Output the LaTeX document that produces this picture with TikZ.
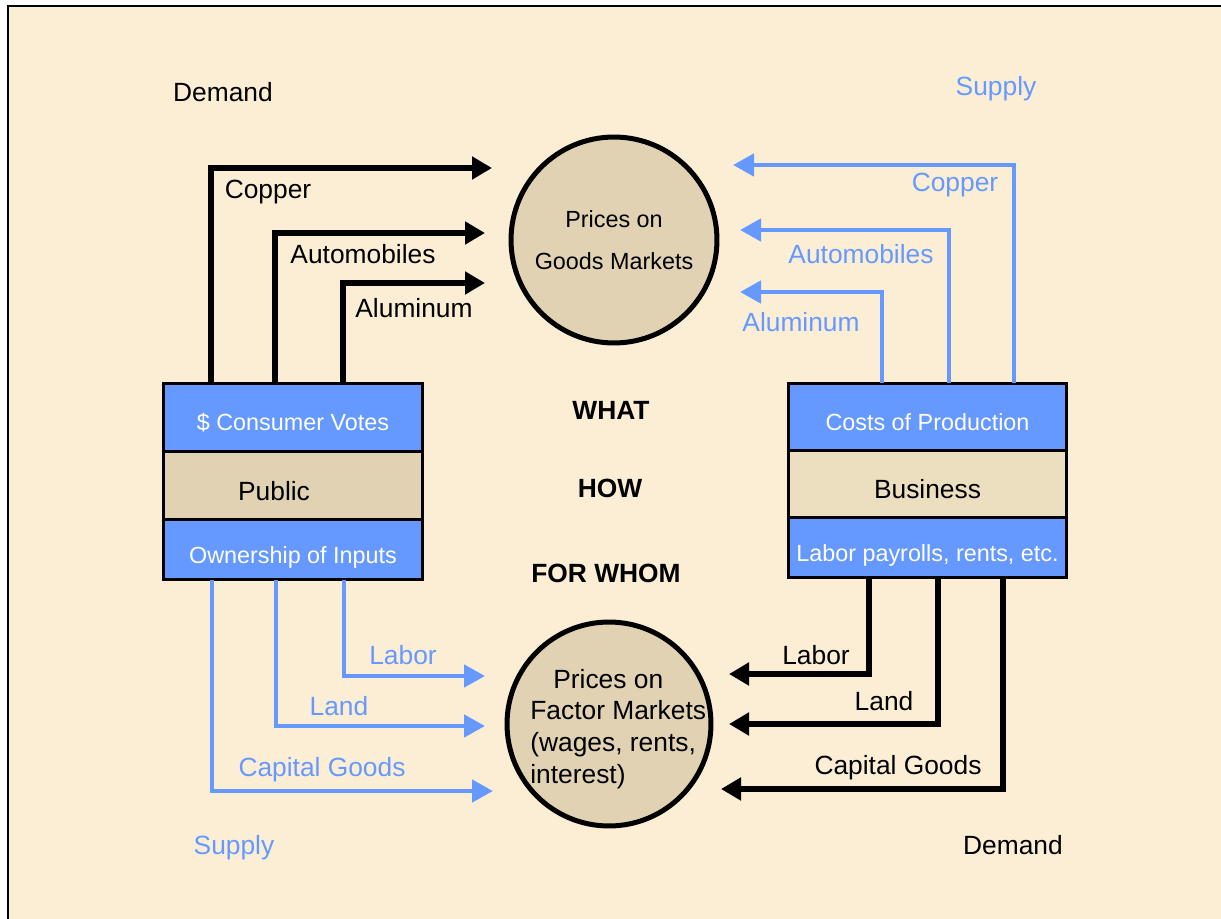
\documentclass[tikz,border=0pt]{standalone}
\usepackage{fontspec}
\setmainfont{Liberation Sans}
\usetikzlibrary{arrows.meta,positioning}

\definecolor{parch}{HTML}{FBEED5}
\definecolor{flowblue}{HTML}{6699FF}
\definecolor{tanfill}{HTML}{E0D2B2}
\definecolor{tanlight}{HTML}{EBDFC0}

\tikzset{
  lbl/.style={font=\fontsize{15}{18}\selectfont, inner sep=0pt},
  boxtxt/.style={font=\fontsize{13.3}{16}\selectfont},
  bluebox/.style={draw=black, line width=0.06cm, fill=flowblue, text=white, boxtxt, inner sep=0pt, outer sep=0pt,
    text height=0.54cm, text depth=0cm},
  tanbox/.style={draw=black, line width=0.06cm, fill=tanfill, lbl, outer sep=0pt,
    text height=0.58cm, text depth=0cm},
  mkt/.style={circle, draw=black, line width=0.1cm, fill=tanfill, inner sep=0pt},
  blkarrow/.style={line width=0.11cm, -{Triangle[length=0.4cm,width=0.44cm]}},
  bluarrow/.style={flowblue, line width=0.095cm, -{Triangle[length=0.42cm,width=0.44cm]}}
}

\begin{document}
\begin{tikzpicture}[x=0.02cm, y=-0.02cm]
\useasboundingbox (0,0) rectangle (1221,919);
\fill[white] (0,0) rectangle (1221,919);
\fill[parch] (8,6) rectangle (1221,919);
\draw[line width=0.055cm] (8,919) -- (8,6) -- (1221,6);

% markets
\node[mkt, minimum size=4.12cm, align=center, font=\fontsize{13.3}{23.8}\selectfont] (goods) at (614,240) {Prices on\\Goods Markets};
\node[mkt, minimum size=4.08cm] (factor) at (609,724) {};
\node[lbl, anchor=west, align=left, font=\fontsize{15}{18.1}\selectfont] (factorTxt) at (530,729)
  {\hspace{0.46cm}Prices on\\Factor Markets\\(wages, rents,\\interest)};

% public
\node[bluebox, minimum width=5.2cm, minimum height=1.38cm, anchor=north] (pubTop) at (293,383) {\$ Consumer Votes};
\node[tanbox, minimum width=5.2cm, minimum height=1.36cm, below=0pt of pubTop] (pub) {Public\kern0.76cm};
\node[bluebox, minimum width=5.2cm, minimum height=1.2cm, below=0pt of pub] (pubBot) {Ownership of Inputs};

% business
\node[bluebox, minimum width=5.58cm, minimum height=1.36cm, anchor=north] (busTop) at (927.5,383) {Costs of Production};
\node[tanbox, fill=tanlight, minimum width=5.58cm, minimum height=1.34cm, below=0pt of busTop] (bus) {Business};
\node[bluebox, minimum width=5.58cm, minimum height=1.2cm, below=0pt of bus] (busBot) {Labor payrolls, rents, etc.};

% goods flows
\foreach \x/\y/\t/\lab/\lx/\ly [count=\i] in {211/168/492/Copper/268/192, 275/233/485/Automobiles/363/254, 343/283/485/Aluminum/414/308}{
\coordinate (dG\i) at (\t,\y);
\draw[blkarrow] (\x,0 |- pubTop.north) |- (dG\i);
\node[lbl] (dGl\i) at (\lx,\ly) {\lab};
}
\foreach \x/\y/\t/\lab/\lx/\ly [count=\i] in {1014/165/733/Copper/955/185, 949/230/740/Automobiles/861/254, 882/292/740/Aluminum/801/322}{
\coordinate (sG\i) at (\t,\y);
\draw[bluarrow] (\x,0 |- busTop.north) |- (sG\i);
\node[lbl, text=flowblue] (sGl\i) at (\lx,\ly) {\lab};
}

% factor flows
\foreach \x/\y/\t/\lab/\lx/\ly [count=\i] in {344/676/485/Labor/403/655, 276/726/485/Land/339/706, 212/791/493/Capital Goods/322/770}{
\coordinate (sF\i) at (\t,\y);
\draw[bluarrow] (\x,0 |- pubBot.south) |- (sF\i);
\node[lbl, text=flowblue] (sFl\i) at (\lx,\ly) {\lab};
}
\foreach \x/\y/\t/\lab/\lx/\ly [count=\i] in {869/674/729/Labor/816/655, 938/724/729/Land/884/701, 1003/789/721/Capital Goods/898/768}{
\coordinate (dF\i) at (\t,\y);
\draw[blkarrow] (\x,0 |- busBot.south) |- (dF\i);
\node[lbl] (dFl\i) at (\lx,\ly) {\lab};
}

% side captions
\node[lbl] (demTop) at (223,92) {Demand};
\node[lbl, text=flowblue] (supTop) at (996,89) {Supply};
\node[lbl, text=flowblue] (supBot) at (234,848) {Supply};
\node[lbl] (demBot) at (1013,845) {Demand};

\node[lbl, font=\fontsize{15}{18}\bfseries] (what) at (611,410) {WHAT};
\node[lbl, font=\fontsize{15}{18}\bfseries] (how) at (610,488) {HOW};
\node[lbl, font=\fontsize{15}{18}\bfseries] (whom) at (606,573) {FOR WHOM};
\end{tikzpicture}
\end{document}
